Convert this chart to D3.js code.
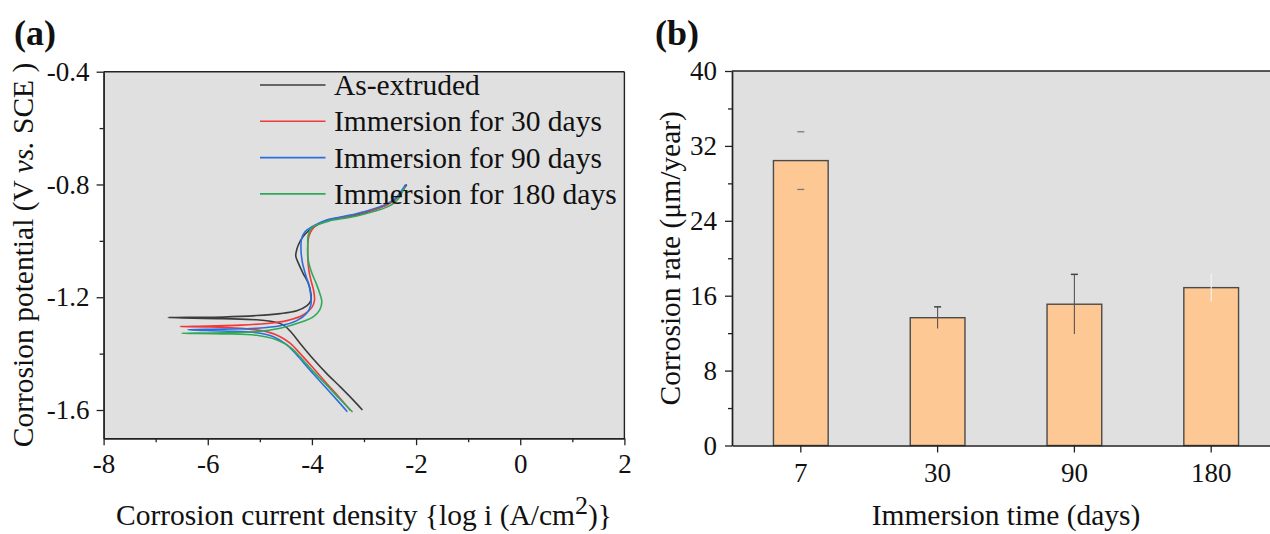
<!DOCTYPE html>
<html>
<head>
<meta charset="utf-8">
<script src="https://cdn.jsdelivr.net/npm/d3@7"></script>
<style>
  body { margin: 0; background: #fff; }
  text { font-family: "Liberation Serif", "Times New Roman", serif; fill: #111; }
</style>
</head>
<body>
<svg id="fig" width="1270" height="534"></svg>
<script>
// ---- panel (a) data: log i (A/cm2) vs E (V vs SCE), traced from cathodic end to anodic end
var seriesNames = ["As-extruded", "Immersion for 30 days", "Immersion for 90 days", "Immersion for 180 days"];

var asExtruded = [[-3.03,-1.600],[-3.21,-1.564],[-3.46,-1.517],[-3.72,-1.470],[-3.97,-1.420],[-4.23,-1.363],
  [-4.39,-1.326],[-4.55,-1.298],[-4.74,-1.287],[-5.06,-1.280],[-5.70,-1.276],[-6.76,-1.272],
  [-5.70,-1.270],[-5.06,-1.265],[-4.61,-1.258],[-4.29,-1.248],[-4.10,-1.231],[-4.02,-1.212],[-4.02,-1.186],
  [-4.07,-1.150],[-4.17,-1.115],[-4.26,-1.079],[-4.31,-1.054],[-4.29,-1.030],[-4.23,-1.003],[-4.13,-0.976],
  [-4.00,-0.955],[-3.72,-0.928],[-3.14,-0.908],[-2.55,-0.870],[-2.38,-0.849],[-2.18,-0.800]];

var immersion30 = [[-3.26,-1.602],[-3.46,-1.558],[-3.72,-1.505],[-3.97,-1.452],[-4.23,-1.399],[-4.42,-1.363],
  [-4.61,-1.340],[-4.87,-1.322],[-5.38,-1.310],[-6.02,-1.305],[-6.53,-1.304],
  [-6.00,-1.302],[-5.38,-1.299],[-4.87,-1.293],[-4.48,-1.283],[-4.17,-1.263],[-4.00,-1.236],[-3.95,-1.210],
  [-3.97,-1.174],[-4.02,-1.139],[-4.06,-1.103],[-4.08,-1.056],[-4.08,-1.015],[-4.06,-0.985],[-4.00,-0.961],
  [-3.91,-0.944],[-3.70,-0.927],[-3.15,-0.906],[-2.55,-0.872],[-2.37,-0.849],[-2.20,-0.803]];

var immersion90 = [[-3.32,-1.606],[-3.52,-1.564],[-3.78,-1.511],[-4.04,-1.458],[-4.29,-1.405],[-4.48,-1.369],
  [-4.74,-1.340],[-5.06,-1.326],[-5.70,-1.320],[-6.38,-1.315],
  [-5.70,-1.313],[-5.06,-1.310],[-4.61,-1.301],[-4.29,-1.283],[-4.10,-1.257],[-4.02,-1.227],[-4.02,-1.198],
  [-4.05,-1.162],[-4.11,-1.127],[-4.18,-1.079],[-4.21,-1.032],[-4.20,-0.994],[-4.13,-0.967],[-4.00,-0.950],
  [-3.72,-0.926],[-3.15,-0.904],[-2.55,-0.868],[-2.38,-0.846],[-2.20,-0.800]];

var immersion180 = [[-3.22,-1.607],[-3.46,-1.562],[-3.72,-1.511],[-3.97,-1.464],[-4.23,-1.411],[-4.42,-1.377],
  [-4.68,-1.351],[-5.06,-1.335],[-5.70,-1.330],[-6.50,-1.328],
  [-5.70,-1.326],[-5.06,-1.322],[-4.61,-1.310],[-4.23,-1.290],[-3.97,-1.269],[-3.85,-1.245],[-3.81,-1.216],
  [-3.85,-1.186],[-3.92,-1.150],[-4.00,-1.115],[-4.07,-1.068],[-4.08,-1.021],[-4.07,-0.979],[-4.00,-0.952],
  [-3.85,-0.940],[-3.68,-0.930],[-3.10,-0.910],[-2.50,-0.875],[-2.35,-0.852],[-2.22,-0.810]];

var xTicksA = [-8, -6, -4, -2, 0, 2];
var xMinorA = [-7, -5, -3, -1, 1];
var yTicksA = [-0.4, -0.8, -1.2, -1.6];
var yMinorA = [-0.6, -1.0, -1.4];

// ---- panel (b) data
var days = ["7", "30", "90", "180"];
var rate = [30.43, 13.65, 15.09, 16.86];
var rateErr = [3.08, 1.16, 3.19, 1.48];
var yTicksB = [0, 8, 16, 24, 32, 40];
var yMinorB = [4, 12, 20, 28, 36];

var svg = d3.select("#fig");
var tickFont = 27, titleFont = 29.5;

function styleAxis(g) {
  g.attr("font-family", null).attr("font-size", null);
  g.selectAll("path.domain").attr("stroke", "#222").attr("stroke-width", 1.4);
  g.selectAll(".tick line").attr("stroke", "#222").attr("stroke-width", 1.3);
  g.selectAll(".tick text").style("font-size", tickFont + "px").attr("fill", "#111");
}

// ================= panel (a) =================
var xa = d3.scaleLinear().domain([-8, 2]).range([103.6, 624.4]);
var ya = d3.scaleLinear().domain([-1.7, -0.4]).range([438.2, 71.7]);

var pa = svg.append("g");
pa.append("rect")
  .attr("x", xa(-8)).attr("y", ya(-0.4))
  .attr("width", xa(2) - xa(-8)).attr("height", ya(-1.7) - ya(-0.4))
  .attr("fill", "#e0e0e0");

var colors = ["#3c3c3c", "#ee3a3a", "#2b6fdc", "#2ea957"];
var curves = [asExtruded, immersion30, immersion90, immersion180];

var line = d3.line()
  .x(function(d){ return xa(d[0]); })
  .y(function(d){ return ya(d[1]); })
  .curve(d3.curveCatmullRom.alpha(0.5));

pa.selectAll("path.curve")
  .data(curves)
  .enter().append("path")
    .attr("class", "curve")
    .attr("d", line)
    .attr("fill", "none")
    .attr("stroke", function(d, i){ return colors[i]; })
    .attr("stroke-width", 1.6);

// frame top/right
pa.append("line").attr("x1", xa(-8)).attr("x2", xa(2)).attr("y1", ya(-0.4)).attr("y2", ya(-0.4))
  .attr("stroke", "#222").attr("stroke-width", 1.4);
pa.append("line").attr("x1", xa(2)).attr("x2", xa(2)).attr("y1", ya(-0.4)).attr("y2", ya(-1.7))
  .attr("stroke", "#222").attr("stroke-width", 1.4);

var gxa = pa.append("g").attr("transform", "translate(0," + ya(-1.7) + ")")
  .call(d3.axisBottom(xa).tickValues(xTicksA).tickSize(7).tickSizeOuter(0).tickPadding(9)
    .tickFormat(function(d){ return String(d); }));
styleAxis(gxa);
var gxam = pa.append("g").attr("transform", "translate(0," + ya(-1.7) + ")")
  .call(d3.axisBottom(xa).tickValues(xMinorA).tickSize(4).tickSizeOuter(0).tickFormat(""));
styleAxis(gxam);

var gya = pa.append("g").attr("transform", "translate(" + xa(-8) + ",0)")
  .call(d3.axisLeft(ya).tickValues(yTicksA).tickSize(7).tickSizeOuter(0).tickPadding(7)
    .tickFormat(function(d){ return String(d); }));
styleAxis(gya);
var gyam = pa.append("g").attr("transform", "translate(" + xa(-8) + ",0)")
  .call(d3.axisLeft(ya).tickValues(yMinorA).tickSize(4).tickSizeOuter(0).tickFormat(""));
styleAxis(gyam);

// legend
var leg = pa.append("g");
seriesNames.forEach(function(name, i){
  var yy = 85 + i * 36.3;
  leg.append("line").attr("x1", 260).attr("x2", 325.5).attr("y1", yy).attr("y2", yy)
    .attr("stroke", colors[i]).attr("stroke-width", 1.6);
  leg.append("text").attr("x", 334).attr("y", yy + 10)
    .style("font-size", "29.5px").text(name);
});

// axis titles
var xta = pa.append("text")
  .attr("x", (xa(-8) + xa(2)) / 2).attr("y", 525)
  .attr("text-anchor", "middle").style("font-size", titleFont + "px");
xta.append("tspan").text("Corrosion current density {log i (A/cm");
xta.append("tspan").attr("dy", -11).style("font-size", "26px").text("2");
xta.append("tspan").attr("dy", 11).text(")}");

var yta = pa.append("text")
  .attr("transform", "translate(33," + ((ya(-0.4) + ya(-1.7)) / 2) + ") rotate(-90)")
  .attr("text-anchor", "middle").style("font-size", titleFont + "px");
yta.append("tspan").text("Corrosion potential (V ");
yta.append("tspan").style("font-style", "italic").text("vs.");
yta.append("tspan").text(" SCE )");

svg.append("text").attr("x", 14).attr("y", 45)
  .style("font-size", "36px").style("font-weight", "bold").text("(a)");

// ================= panel (b) =================
var xb = d3.scaleBand().domain(days).range([732, 1280]).paddingInner(0.6).paddingOuter(0.303);
var yb = d3.scaleLinear().domain([0, 40]).range([445.5, 71]);

var pb = svg.append("g");
pb.append("rect")
  .attr("x", 732).attr("y", yb(40))
  .attr("width", 1280 - 732).attr("height", yb(0) - yb(40))
  .attr("fill", "#e0e0e0");

var bars = days.map(function(d, i){ return {day: d, value: rate[i], err: rateErr[i], i: i}; });

pb.selectAll("rect.bar")
  .data(bars)
  .enter().append("rect")
    .attr("class", "bar")
    .attr("x", function(d){ return xb(d.day); })
    .attr("width", xb.bandwidth())
    .attr("y", function(d){ return yb(d.value); })
    .attr("height", function(d){ return yb(0) - yb(d.value); })
    .attr("fill", "#fec894")
    .attr("stroke", "#4a4a4a")
    .attr("stroke-width", 1.4);

// error bars, drawn the way they show up in the figure
var errStyle = ["caps", "top", "top", "faint"];
var capW = 7;
bars.forEach(function(d){
  var cx = xb(d.day) + xb.bandwidth() / 2,
      hi = yb(d.value + d.err), lo = yb(d.value - d.err),
      st = errStyle[d.i];
  if (st === "caps") {
    [hi, lo].forEach(function(yy){
      pb.append("line").attr("x1", cx - capW/2).attr("x2", cx + capW/2).attr("y1", yy).attr("y2", yy)
        .attr("stroke", "#7a7a7a").attr("stroke-width", 1.3);
    });
  } else if (st === "top") {
    pb.append("line").attr("x1", cx).attr("x2", cx).attr("y1", hi).attr("y2", lo)
      .attr("stroke", "#555").attr("stroke-width", 1.1);
    pb.append("line").attr("x1", cx - capW/2).attr("x2", cx + capW/2).attr("y1", hi).attr("y2", hi)
      .attr("stroke", "#444").attr("stroke-width", 1.5);
  } else {
    pb.append("line").attr("x1", cx).attr("x2", cx).attr("y1", hi).attr("y2", lo)
      .attr("stroke", "#f4f4f4").attr("stroke-width", 1.1);
  }
});

pb.append("line").attr("x1", 732).attr("x2", 1280).attr("y1", yb(40)).attr("y2", yb(40))
  .attr("stroke", "#222").attr("stroke-width", 1.4);

var gxb = pb.append("g").attr("transform", "translate(0," + yb(0) + ")")
  .call(d3.axisBottom(xb).tickSize(7).tickSizeOuter(0).tickPadding(10));
styleAxis(gxb);

var gyb = pb.append("g").attr("transform", "translate(732,0)")
  .call(d3.axisLeft(yb).tickValues(yTicksB).tickSize(7).tickSizeOuter(0).tickPadding(8)
    .tickFormat(d3.format("d")));
styleAxis(gyb);
var gybm = pb.append("g").attr("transform", "translate(732,0)")
  .call(d3.axisLeft(yb).tickValues(yMinorB).tickSize(4).tickSizeOuter(0).tickFormat(""));
styleAxis(gybm);

pb.append("text")
  .attr("x", (732 + 1280) / 2).attr("y", 525)
  .attr("text-anchor", "middle").style("font-size", titleFont + "px")
  .text("Immersion time (days)");

pb.append("text")
  .attr("transform", "translate(680," + ((yb(0) + yb(40)) / 2) + ") rotate(-90)")
  .attr("text-anchor", "middle").style("font-size", titleFont + "px")
  .text("Corrosion rate (\u03bcm/year)");

svg.append("text").attr("x", 655).attr("y", 45)
  .style("font-size", "36px").style("font-weight", "bold").text("(b)");
</script>
</body>
</html>
